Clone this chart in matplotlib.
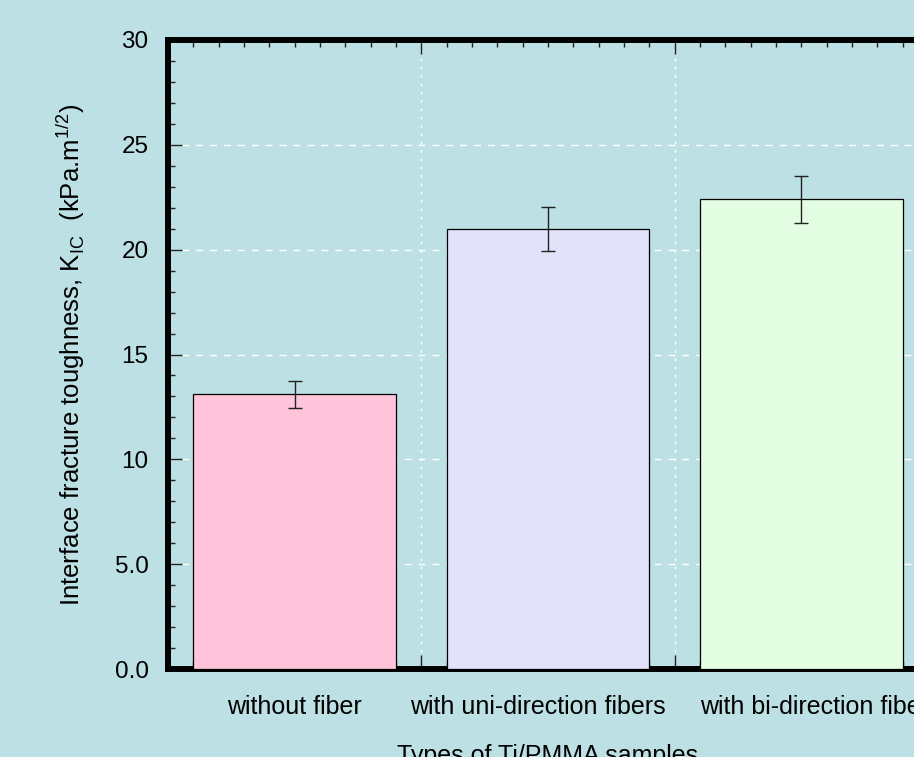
import matplotlib.pyplot as plt
from matplotlib.ticker import MultipleLocator, FixedLocator
import numpy as np

plt.rcParams['font.family'] = ['Liberation Sans', 'DejaVu Sans']

# data
categories = ['without fiber', 'with uni-direction fibers', 'with bi-direction fibers']
kic_values = [13.1, 21.0, 22.4]
kic_errors = [0.65, 1.05, 1.13]
bar_colors = ['#ffc4da', '#e2e2fa', '#e2fde2']
label_shift = [0, -7, 14]   # small horizontal nudges (points) seen in the original

bg = '#bce0e3'

fig = plt.figure(figsize=(9.14, 7.57), dpi=100, facecolor=bg)
ax = fig.add_axes([0.1838, 0.1162, 0.8315, 0.831], facecolor=bg)

x = np.arange(1, len(categories) + 1)
ax.bar(x, kic_values, width=0.8, color=bar_colors, edgecolor='black', linewidth=0.9, zorder=3)
ax.errorbar(x, kic_values, yerr=kic_errors, fmt='none', ecolor='#222222',
            elinewidth=1.0, capsize=5, capthick=1.0, zorder=4)

ax.set_xlim(0.5, 3.5)
ax.set_ylim(0, 30)

# x: major ticks between categories, labels at category centres
ax.xaxis.set_major_locator(FixedLocator([1.5, 2.5]))
ax.xaxis.set_minor_locator(MultipleLocator(0.1))
ax.set_xticklabels([])
for xi, name, dx in zip(x, categories, label_shift):
    ax.annotate(name, xy=(xi, 0), xycoords=('data', 'axes fraction'),
                xytext=(dx, -19), textcoords='offset points',
                ha='center', va='top', fontsize=18)

ax.yaxis.set_minor_locator(MultipleLocator(1))
ax.set_yticks([0, 5, 10, 15, 20, 25, 30])
ax.set_yticklabels(['0.0', '5.0', '10', '15', '20', '25', '30'], fontsize=17.5)

ax.tick_params(which='both', direction='in', top=True, right=True, color='#222222')
ax.tick_params(which='major', length=10, width=1.0, pad=14)
ax.tick_params(which='minor', length=5, width=1.0)
ax.tick_params(axis='x', which='major', labelbottom=False)

ax.grid(axis='y', which='major', color='white', linestyle=(0, (5, 5)), linewidth=1.0, zorder=0)
ax.grid(axis='x', which='major', color='white', linestyle=(0, (2, 4)), linewidth=1.0, zorder=0)

for sp in ax.spines.values():
    sp.set_linewidth(4.3)
    sp.set_color('black')

ax.set_ylabel(r'Interface fracture toughness, K$_{\mathregular{IC}}$  (kPa.m$^{\mathregular{1/2}}$)',
              fontsize=18.5, labelpad=20)
ax.annotate('Types of Ti/PMMA samples', xy=(0.5, 0), xycoords='axes fraction',
            xytext=(0, -54), textcoords='offset points',
            ha='center', va='top', fontsize=18)

fig.savefig('out.png', dpi=100, facecolor=bg)
